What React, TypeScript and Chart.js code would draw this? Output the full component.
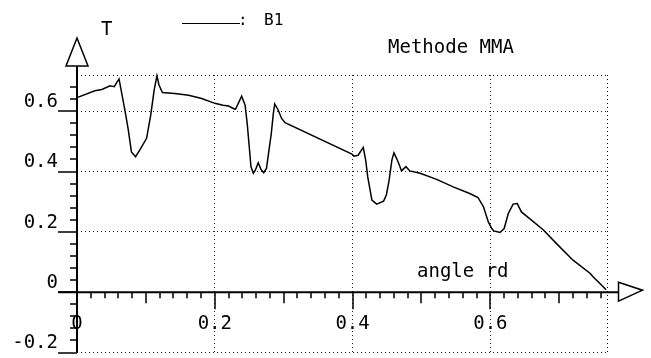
import React, { useEffect, useRef } from 'react';
import { Chart, registerables } from 'chart.js';

Chart.register(...registerables);

// ---- data ----
const curveX = [0, 0.026, 0.036, 0.048, 0.054, 0.061, 0.070, 0.0745, 0.079, 0.085, 0.091, 0.101, 0.107, 0.112, 0.116, 0.119, 0.124, 0.142, 0.162, 0.181, 0.200, 0.212, 0.22, 0.227, 0.230, 0.239, 0.244, 0.247, 0.250, 0.2525, 0.256, 0.259, 0.263, 0.267, 0.271, 0.275, 0.278, 0.282, 0.285, 0.287, 0.292, 0.297, 0.302, 0.399, 0.402, 0.408, 0.4155, 0.419, 0.422, 0.425, 0.428, 0.435, 0.445, 0.449, 0.453, 0.457, 0.460, 0.464, 0.468, 0.471, 0.4775, 0.483, 0.498, 0.522, 0.546, 0.570, 0.582, 0.590, 0.597, 0.602, 0.605, 0.614, 0.620, 0.626, 0.633, 0.639, 0.645, 0.657, 0.677, 0.696, 0.720, 0.745, 0.749, 0.759, 0.768];
const curveY = [0.645, 0.668, 0.672, 0.684, 0.681, 0.707, 0.598, 0.537, 0.465, 0.449, 0.471, 0.51, 0.587, 0.67, 0.717, 0.687, 0.662, 0.659, 0.653, 0.642, 0.626, 0.62, 0.617, 0.609, 0.606, 0.650, 0.62, 0.56, 0.482, 0.416, 0.394, 0.405, 0.429, 0.407, 0.396, 0.41, 0.46, 0.526, 0.593, 0.624, 0.604, 0.576, 0.562, 0.458, 0.451, 0.454, 0.48, 0.438, 0.382, 0.344, 0.305, 0.292, 0.302, 0.322, 0.371, 0.438, 0.462, 0.443, 0.421, 0.402, 0.416, 0.402, 0.394, 0.374, 0.349, 0.327, 0.314, 0.283, 0.233, 0.211, 0.203, 0.198, 0.211, 0.261, 0.292, 0.294, 0.266, 0.244, 0.206, 0.161, 0.106, 0.062, 0.051, 0.029, 0.008];

const xTickValues = [0, 0.2, 0.4, 0.6];
const xTickLabels = ['0', '0.2', '0.4', '0.6'];
const yTickValues = [-0.2, 0, 0.2, 0.4, 0.6];
const yTickLabels = ['-0.2', '0', '0.2', '0.4', '0.6'];
const X_MIN = 0;
const X_MAX = 0.77;
const Y_MIN = -0.2;
const Y_MAX = 0.72;
const seriesName = 'B1';
const titleText = 'Methode MMA';
const yAxisTitle = 'T';
const xAxisTitle = 'angle rd';

const FONT = '"DejaVu Sans Mono", "Liberation Mono", monospace';

const zeroPad = (s: any) => {
  s.paddingTop = 0;
  s.paddingBottom = 0;
  s.paddingLeft = 0;
  s.paddingRight = 0;
};

const decorPlugin = {
  id: 'decor',
  afterDraw(chart: any) {
    const ctx = chart.ctx as CanvasRenderingContext2D;
    const xs = chart.scales.x;
    const ys = chart.scales.y;
    const a = chart.chartArea;
    const x0 = xs.getPixelForValue(0);
    const y0 = ys.getPixelForValue(0);
    ctx.save();
    ctx.strokeStyle = '#000';
    ctx.fillStyle = '#000';

    // dotted top and right frame
    ctx.setLineDash([1, 3]);
    ctx.lineWidth = 1;
    ctx.beginPath();
    ctx.moveTo(a.left, Math.round(a.top) + 0.5);
    ctx.lineTo(a.right, Math.round(a.top) + 0.5);
    ctx.moveTo(Math.round(a.right) - 0.5, a.top);
    ctx.lineTo(Math.round(a.right) - 0.5, a.bottom);
    ctx.stroke();
    ctx.setLineDash([]);

    // axes lines
    ctx.lineWidth = 2;
    ctx.beginPath();
    ctx.moveTo(x0, a.top - 9);
    ctx.lineTo(x0, a.bottom);
    ctx.moveTo(x0 - 19, y0);
    ctx.lineTo(a.right + 11, y0);
    ctx.stroke();

    // y ticks
    ctx.lineWidth = 1.5;
    ctx.beginPath();
    for (let i = 0; i <= 22; i++) {
      const v = Y_MIN + i * 0.04;
      if (v > Y_MAX - 0.02) break;
      const p = Math.round(ys.getPixelForValue(v));
      const major = i % 5 === 0;
      ctx.moveTo(major ? x0 - 19 : x0 - 7, p);
      ctx.lineTo(x0, p);
    }
    // x ticks
    for (let i = 1; i <= 38; i++) {
      const v = i * 0.02;
      if (v > X_MAX - 0.005) break;
      const p = Math.round(xs.getPixelForValue(v));
      const len = i % 10 === 0 ? 17 : i % 5 === 0 ? 11 : 6;
      ctx.moveTo(p, y0);
      ctx.lineTo(p, y0 + len);
    }
    ctx.stroke();

    // arrows
    ctx.lineWidth = 1.5;
    ctx.fillStyle = '#fff';
    ctx.beginPath();
    ctx.moveTo(x0 - 11, a.top - 9);
    ctx.lineTo(x0 + 11, a.top - 9);
    ctx.lineTo(x0, a.top - 37);
    ctx.closePath();
    ctx.fill();
    ctx.stroke();
    ctx.beginPath();
    ctx.moveTo(a.right + 11, y0 - 10);
    ctx.lineTo(a.right + 35, y0 - 2);
    ctx.lineTo(a.right + 11, y0 + 9);
    ctx.closePath();
    ctx.fill();
    ctx.stroke();

    // texts
    ctx.fillStyle = '#000';
    ctx.textBaseline = 'alphabetic';
    ctx.textAlign = 'left';
    ctx.font = `19px ${FONT}`;
    ctx.fillText(yAxisTitle, 101, 35);
    ctx.fillText(titleText, 388, 53);
    ctx.fillText(xAxisTitle, 417, 277);

    // legend
    ctx.lineWidth = 1;
    ctx.beginPath();
    ctx.moveTo(182, 23.5);
    ctx.lineTo(240, 23.5);
    ctx.stroke();
    ctx.font = `16px ${FONT}`;
    ctx.fillText(':', 238, 25);
    ctx.fillText(seriesName, 264, 25);
    ctx.restore();
  },
};

export default function App() {
  const ref = useRef<HTMLCanvasElement | null>(null);
  useEffect(() => {
    if (!ref.current) return;
    const chart = new Chart(ref.current, {
      type: 'line',
      data: {
        datasets: [
          {
            label: seriesName,
            data: curveX.map((x, i) => ({ x, y: curveY[i] })),
            borderColor: '#000',
            borderWidth: 1.5,
            pointRadius: 0,
            tension: 0,
            fill: false,
            clip: false as any,
          },
        ],
      },
      options: {
        animation: false,
        responsive: false,
        layout: { padding: { left: 0, top: 75, right: 43.5, bottom: 5.5 } },
        plugins: { legend: { display: false }, title: { display: false }, tooltip: { enabled: false } },
        scales: {
          x: {
            type: 'linear',
            min: X_MIN,
            max: X_MAX,
            position: { y: 0 } as any,
            afterBuildTicks: (s: any) => {
              s.ticks = xTickValues.map((v) => ({ value: v }));
            },
            afterFit: (s: any) => {
              s.height = 0;
              zeroPad(s);
            },
            ticks: {
              autoSkip: false,
              maxRotation: 0,
              padding: 20,
              color: '#000',
              font: { family: FONT, size: 19 },
              callback: (v: any) => {
                const i = xTickValues.indexOf(v);
                return i >= 0 ? xTickLabels[i] : '';
              },
            },
            grid: { color: '#222', lineWidth: 1, drawTicks: false },
            border: { display: false, dash: [1, 3] },
          },
          y: {
            type: 'linear',
            min: Y_MIN,
            max: Y_MAX,
            position: 'left',
            afterBuildTicks: (s: any) => {
              s.ticks = yTickValues.map((v) => ({ value: v }));
            },
            afterFit: (s: any) => {
              s.width = 77;
              zeroPad(s);
            },
            ticks: {
              autoSkip: false,
              padding: 19,
              labelOffset: -9,
              color: '#000',
              font: { family: FONT, size: 19 },
              callback: (v: any) => {
                const i = yTickValues.indexOf(v);
                return i >= 0 ? yTickLabels[i] : '';
              },
            },
            grid: { color: '#222', lineWidth: 1, drawTicks: false },
            border: { display: false, dash: [1, 3] },
          },
        },
      },
      plugins: [decorPlugin],
    });
    return () => chart.destroy();
  }, []);
  return (
    <div style={{ position: 'fixed', left: 0, top: 0, width: 651, height: 358, background: '#fff' }}>
      <canvas ref={ref} width={651} height={358} style={{ display: 'block' }} />
    </div>
  );
}
